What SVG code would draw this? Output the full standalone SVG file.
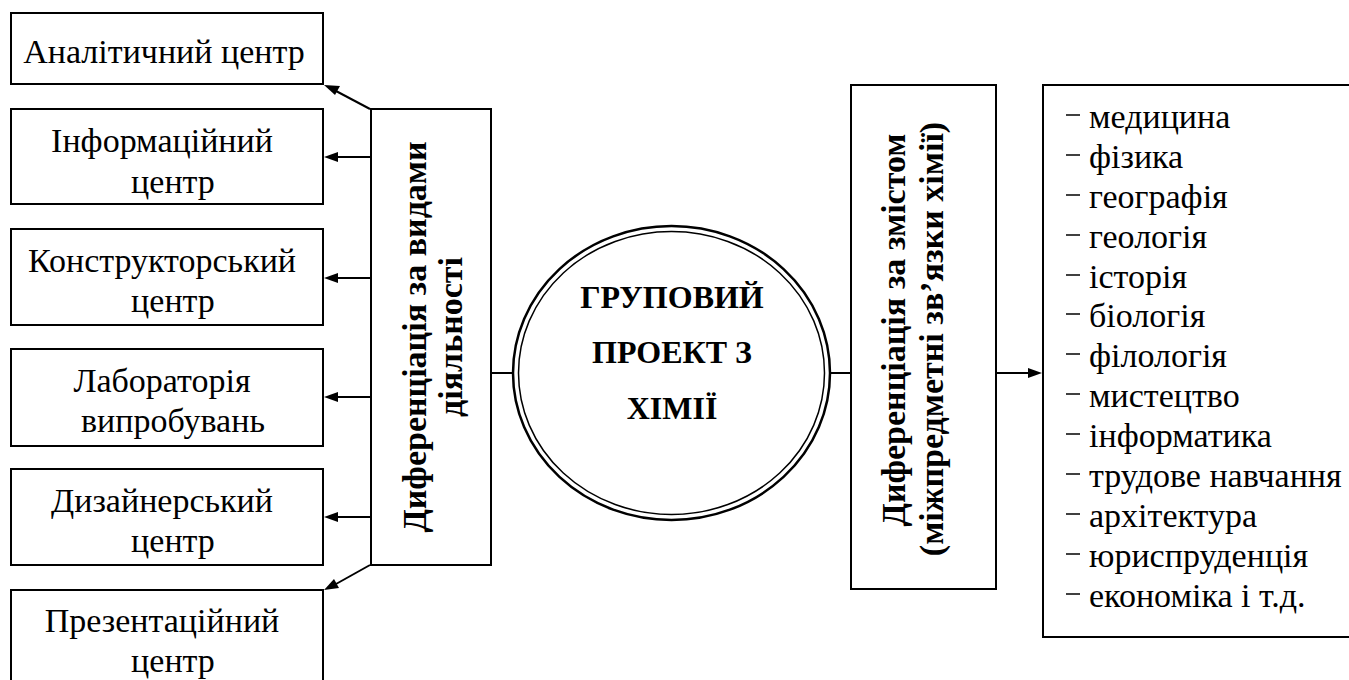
<svg xmlns="http://www.w3.org/2000/svg" width="1349" height="680" viewBox="0 0 1349 680">
<style>
.box{fill:#fff;stroke:#000;stroke-width:2}
.ln{stroke:#000;stroke-width:2;fill:none}
.ah{fill:#000;stroke:none}
.d{stroke:#000;stroke-width:1.5}
</style>
<rect width="1349" height="680" fill="#fff"/>
<g id="connectors">
<line class="ln" x1="370" y1="109" x2="336" y2="91"/>
<polygon class="ah" points="324,85 340,86 335,95"/>
<line class="ln" x1="370" y1="157" x2="336" y2="157"/>
<polygon class="ah" points="324,157 338,152 338,162"/>
<line class="ln" x1="370" y1="278" x2="336" y2="278"/>
<polygon class="ah" points="324,278 338,273 338,283"/>
<line class="ln" x1="370" y1="397" x2="336" y2="397"/>
<polygon class="ah" points="324,397 338,392 338,402"/>
<line class="ln" x1="370" y1="517" x2="336" y2="517"/>
<polygon class="ah" points="324,517 338,512 338,522"/>
<line class="ln" x1="370" y1="565" x2="336" y2="584"/>
<polygon class="ah" points="324,590 334,579 339,588"/>
<line class="ln" x1="491" y1="373" x2="513" y2="373"/>
<line class="ln" x1="830" y1="373" x2="851" y2="373"/>
<line class="ln" x1="996" y1="373" x2="1030" y2="373"/>
<polygon class="ah" points="1042,373 1028,368 1028,378"/>
</g>
<g id="n-analit">
<rect class="box" x="11" y="13" width="312" height="71"/>
<text font-family="Liberation Serif" font-size="34" text-anchor="middle" x="164" y="63">Аналітичний центр</text>
</g>
<g id="n-inform">
<rect class="box" x="11" y="109" width="312" height="95"/>
<text font-family="Liberation Serif" font-size="34" text-anchor="middle" x="162" y="152">Інформаційний</text>
<text font-family="Liberation Serif" font-size="34" text-anchor="middle" x="173" y="193">центр</text>
<rect fill="#fff" x="110" y="205" width="120" height="12"/>
<line class="ln" x1="11" y1="204" x2="323" y2="204"/>
</g>
<g id="n-konstr">
<rect class="box" x="11" y="229" width="312" height="96"/>
<text font-family="Liberation Serif" font-size="34" text-anchor="middle" x="162" y="272">Конструкторський</text>
<text font-family="Liberation Serif" font-size="34" text-anchor="middle" x="173" y="312">центр</text>
<rect fill="#fff" x="110" y="326" width="120" height="12"/>
<line class="ln" x1="11" y1="325" x2="323" y2="325"/>
</g>
<g id="n-lab">
<rect class="box" x="11" y="349" width="312" height="97"/>
<text font-family="Liberation Serif" font-size="34" text-anchor="middle" x="162" y="392">Лабораторія</text>
<text font-family="Liberation Serif" font-size="34" text-anchor="middle" x="173" y="432">випробувань</text>
</g>
<g id="n-dyz">
<rect class="box" x="11" y="469" width="312" height="96"/>
<text font-family="Liberation Serif" font-size="34" text-anchor="middle" x="162" y="512">Дизайнерський</text>
<text font-family="Liberation Serif" font-size="34" text-anchor="middle" x="173" y="552">центр</text>
<rect fill="#fff" x="110" y="566" width="120" height="12"/>
<line class="ln" x1="11" y1="565" x2="323" y2="565"/>
</g>
<g id="n-prez">
<rect class="box" x="11" y="590" width="312" height="100"/>
<text font-family="Liberation Serif" font-size="34" text-anchor="middle" x="162" y="632">Презентаційний</text>
<text font-family="Liberation Serif" font-size="34" text-anchor="middle" x="173" y="672">центр</text>
</g>
<g id="n-vyd">
<rect class="box" x="371" y="109" width="120" height="456"/>
<text font-family="Liberation Serif" font-size="34" font-weight="bold" text-anchor="middle" transform="translate(426,337) rotate(-90)">Диференціація за видами</text>
<text font-family="Liberation Serif" font-size="34" font-weight="bold" text-anchor="middle" transform="translate(462,337) rotate(-90)">діяльності</text>
</g>
<g id="n-center">
<ellipse cx="671.5" cy="373" rx="158.5" ry="147" fill="#fff" stroke="#000" stroke-width="2.5"/>
<ellipse cx="671.5" cy="373" rx="153" ry="141.5" fill="none" stroke="#000" stroke-width="1.5"/>
<text font-family="Liberation Serif" font-size="32" font-weight="bold" text-anchor="middle" x="672" y="308">ГРУПОВИЙ</text>
<text font-family="Liberation Serif" font-size="32" font-weight="bold" text-anchor="middle" x="672" y="363">ПРОЕКТ З</text>
<text font-family="Liberation Serif" font-size="32" font-weight="bold" text-anchor="middle" x="672" y="419">ХІМІЇ</text>
</g>
<g id="n-zmist">
<rect class="box" x="851" y="85" width="145" height="504"/>
<text font-family="Liberation Serif" font-size="34" font-weight="bold" text-anchor="middle" transform="translate(905,330) rotate(-90)">Диференціація за змістом</text>
<text font-family="Liberation Serif" font-size="34" font-weight="bold" text-anchor="middle" transform="translate(943,339) rotate(-90)">(міжпредметні зв’язки хімії)</text>
</g>
<g id="n-list">
<rect class="box" x="1043" y="85" width="320" height="552"/>
<line class="d" x1="1066" y1="115" x2="1080" y2="115"/><text font-family="Liberation Serif" font-size="34" x="1089" y="128">медицина</text>
<line class="d" x1="1066" y1="155" x2="1080" y2="155"/><text font-family="Liberation Serif" font-size="34" x="1089" y="168">фізика</text>
<line class="d" x1="1066" y1="195" x2="1080" y2="195"/><text font-family="Liberation Serif" font-size="34" x="1089" y="208">географія</text>
<line class="d" x1="1066" y1="235" x2="1080" y2="235"/><text font-family="Liberation Serif" font-size="34" x="1089" y="248">геологія</text>
<line class="d" x1="1066" y1="275" x2="1080" y2="275"/><text font-family="Liberation Serif" font-size="34" x="1089" y="288">історія</text>
<line class="d" x1="1066" y1="314" x2="1080" y2="314"/><text font-family="Liberation Serif" font-size="34" x="1089" y="327">біологія</text>
<line class="d" x1="1066" y1="354" x2="1080" y2="354"/><text font-family="Liberation Serif" font-size="34" x="1089" y="367">філологія</text>
<line class="d" x1="1066" y1="394" x2="1080" y2="394"/><text font-family="Liberation Serif" font-size="34" x="1089" y="407">мистецтво</text>
<line class="d" x1="1066" y1="434" x2="1080" y2="434"/><text font-family="Liberation Serif" font-size="34" x="1089" y="447">інформатика</text>
<line class="d" x1="1066" y1="474" x2="1080" y2="474"/><text font-family="Liberation Serif" font-size="34" x="1089" y="487">трудове навчання</text>
<line class="d" x1="1066" y1="514" x2="1080" y2="514"/><text font-family="Liberation Serif" font-size="34" x="1089" y="527">архітектура</text>
<line class="d" x1="1066" y1="554" x2="1080" y2="554"/><text font-family="Liberation Serif" font-size="34" x="1089" y="567">юриспруденція</text>
<line class="d" x1="1066" y1="594" x2="1080" y2="594"/><text font-family="Liberation Serif" font-size="34" x="1089" y="607">економіка і т.д.</text>
</g>
</svg>
